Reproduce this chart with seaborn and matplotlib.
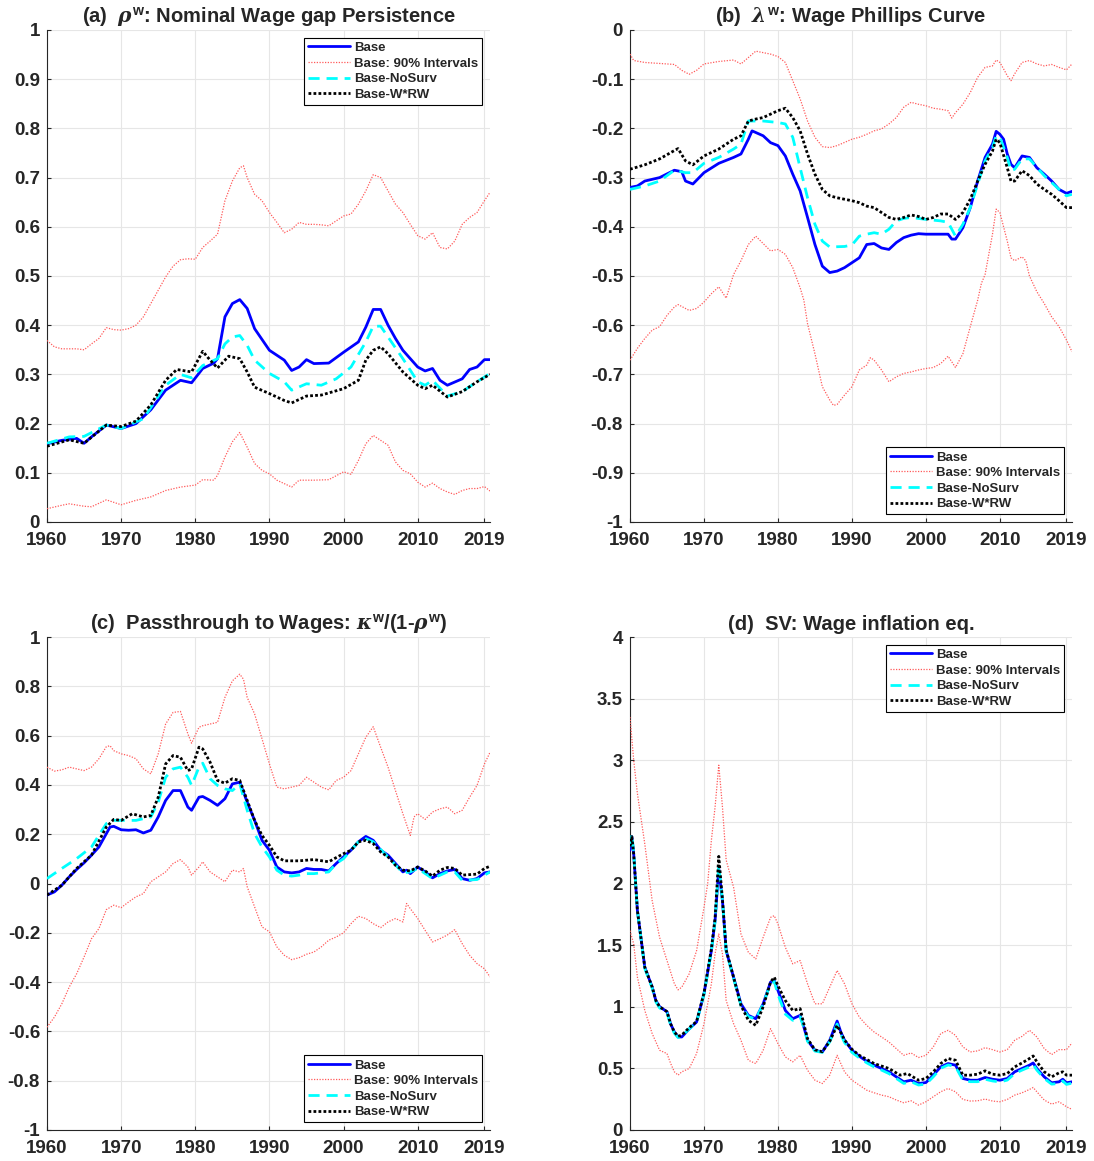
import numpy as np
import pandas as pd
import matplotlib
matplotlib.use("Agg")
import matplotlib.pyplot as plt
import seaborn as sns

# ---------------- Panel (a): rho^w ----------------
a_base_x = [1960,1962,1964,1965,1966,1968,1970,1972,1974,1976,1978,1979.5,1981,1982.5,1983,1984,1985,1986,1987,1988,1990,1992,1993,1994,1995,1996,1998,2000,2002,2003,2004,2005,2006,2007,2008,2010,2011,2012,2013,2014,2016,2017,2018,2019,2019.75]
a_base_y = [0.159,0.166,0.170,0.160,0.173,0.197,0.190,0.200,0.228,0.268,0.288,0.283,0.312,0.323,0.332,0.417,0.444,0.452,0.434,0.393,0.349,0.329,0.308,0.315,0.330,0.322,0.323,0.345,0.366,0.396,0.432,0.432,0.400,0.373,0.349,0.315,0.307,0.312,0.288,0.278,0.291,0.310,0.315,0.330,0.330]
a_nosurv_x = [1960,1963,1965,1968,1970,1973,1976,1978,1979.5,1981,1983,1984,1985,1986,1987,1988,1990,1992,1993,1995,1997,1999,2001,2003,2004,2005,2006,2008,2010,2011,2012,2014,2016,2018,2019.75]
a_nosurv_y = [0.160,0.173,0.174,0.197,0.190,0.210,0.278,0.300,0.293,0.318,0.332,0.362,0.376,0.379,0.359,0.329,0.302,0.285,0.268,0.281,0.278,0.291,0.315,0.366,0.398,0.398,0.376,0.332,0.285,0.278,0.288,0.256,0.265,0.285,0.302]
a_wrw_x = [1960,1963,1965,1968,1970,1972,1974,1976,1977.5,1979.5,1981,1982,1983,1984.5,1986,1987,1988,1990,1992,1993,1995,1997,2000,2002,2003,2004,2005,2006,2008,2010,2011,2012,2014,2016,2018,2019.75]
a_wrw_y = [0.154,0.167,0.160,0.197,0.194,0.205,0.238,0.288,0.310,0.305,0.347,0.329,0.313,0.337,0.332,0.305,0.274,0.261,0.247,0.242,0.256,0.258,0.271,0.288,0.329,0.349,0.356,0.342,0.305,0.278,0.271,0.278,0.254,0.265,0.285,0.300]
a_up_x = [1960,1961,1962,1964,1965,1966,1967,1968,1969,1970,1971,1972,1973,1974,1975,1976,1977,1978,1979,1980,1981,1982,1983,1984,1985,1986,1986.5,1987,1988,1989,1990,1991,1992,1993,1994,1995,1996,1997,1998,1999,2000,2001,2002,2003,2004,2005,2006,2007,2008,2009,2010,2011,2012,2013,2014,2015,2016,2017,2018,2019,2019.75]
a_up_y = [0.369,0.356,0.352,0.352,0.350,0.362,0.373,0.395,0.391,0.390,0.393,0.400,0.417,0.444,0.471,0.498,0.520,0.533,0.535,0.534,0.558,0.571,0.585,0.653,0.693,0.720,0.724,0.700,0.666,0.653,0.629,0.609,0.588,0.595,0.609,0.605,0.605,0.604,0.602,0.612,0.622,0.626,0.646,0.673,0.706,0.700,0.673,0.646,0.629,0.605,0.582,0.575,0.588,0.558,0.555,0.571,0.605,0.619,0.629,0.653,0.670]
a_lo_x = [1960,1962,1963,1965,1966,1968,1970,1972,1974,1976,1978,1980,1981,1982.5,1983,1984,1985,1986,1987,1988,1989,1990,1991,1992,1993,1994,1996,1998,2000,2001,2002,2003,2004,2005,2006,2007,2008,2009,2010,2011,2012,2013,2014,2015,2016,2017,2018,2019,2019.75]
a_lo_y = [0.027,0.034,0.037,0.032,0.031,0.045,0.035,0.044,0.051,0.064,0.071,0.075,0.086,0.085,0.095,0.132,0.163,0.182,0.152,0.119,0.105,0.098,0.085,0.078,0.071,0.085,0.085,0.086,0.102,0.097,0.125,0.159,0.176,0.166,0.156,0.122,0.105,0.098,0.081,0.071,0.079,0.068,0.061,0.056,0.064,0.068,0.068,0.072,0.063]

# ---------------- Panel (b): lambda^w ----------------
b_base_x = [1960,1961,1962,1964,1966,1967,1967.5,1968.5,1970,1972,1974,1975,1976,1976.5,1978,1979,1980,1981,1982,1983,1984,1985,1986,1987,1988,1989,1990,1991,1992,1993,1994,1995,1996,1997,1998,1999,2000,2002,2003,2003.5,2004,2005,2006,2007,2008,2009,2009.5,2010,2010.5,2011,2011.5,2012,2013,2014,2015,2016,2017,2018,2019,2019.75]
b_base_y = [-0.320,-0.317,-0.307,-0.300,-0.285,-0.288,-0.307,-0.313,-0.290,-0.271,-0.259,-0.252,-0.222,-0.205,-0.215,-0.229,-0.235,-0.256,-0.293,-0.327,-0.381,-0.436,-0.480,-0.493,-0.490,-0.483,-0.473,-0.463,-0.436,-0.434,-0.443,-0.446,-0.432,-0.422,-0.417,-0.414,-0.415,-0.415,-0.415,-0.425,-0.425,-0.402,-0.361,-0.307,-0.259,-0.232,-0.206,-0.212,-0.222,-0.252,-0.273,-0.280,-0.256,-0.259,-0.280,-0.293,-0.307,-0.324,-0.332,-0.328]
b_nosurv_x = [1960,1962,1964,1966,1967.5,1968.5,1970,1972,1974,1975,1976,1978,1980,1981,1982,1983,1984,1985,1986,1987,1989,1990,1991,1992,1993,1994,1995,1996,1997,1998,2000,2002,2003,2004,2005,2006,2007,2008,2009,2009.5,2010,2011,2011.5,2012,2013,2014,2016,2018,2019,2019.75]
b_nosurv_y = [-0.324,-0.317,-0.307,-0.285,-0.290,-0.290,-0.271,-0.259,-0.242,-0.232,-0.185,-0.185,-0.188,-0.191,-0.218,-0.280,-0.341,-0.395,-0.429,-0.441,-0.440,-0.437,-0.419,-0.415,-0.412,-0.415,-0.405,-0.388,-0.383,-0.381,-0.385,-0.388,-0.391,-0.419,-0.395,-0.361,-0.313,-0.266,-0.239,-0.215,-0.218,-0.259,-0.286,-0.283,-0.262,-0.262,-0.296,-0.324,-0.337,-0.334]
b_wrw_x = [1960,1962,1964,1966,1966.5,1967.5,1968.5,1970,1972,1974,1975,1976,1977,1978,1980,1981,1982,1983,1984,1985,1986,1987,1988,1990,1991,1992,1993,1994,1995,1996,1997,1998,1999,2000,2001,2002,2003,2004,2005,2006,2007,2008,2009,2009.5,2010,2011,2011.5,2012,2013,2014,2015,2016,2017,2018,2019,2019.75]
b_wrw_y = [-0.283,-0.274,-0.262,-0.245,-0.241,-0.266,-0.274,-0.256,-0.242,-0.222,-0.215,-0.185,-0.181,-0.178,-0.164,-0.159,-0.178,-0.205,-0.252,-0.293,-0.324,-0.337,-0.341,-0.347,-0.351,-0.358,-0.361,-0.371,-0.381,-0.385,-0.381,-0.376,-0.379,-0.385,-0.381,-0.374,-0.374,-0.385,-0.371,-0.344,-0.307,-0.273,-0.246,-0.222,-0.229,-0.280,-0.307,-0.307,-0.286,-0.296,-0.313,-0.324,-0.334,-0.347,-0.361,-0.361]
b_up_x = [1960,1960.5,1962,1964,1966,1967,1968,1969,1970,1972,1974,1975,1976,1977,1979,1980,1981,1982,1983,1984,1985,1986,1987,1988,1990,1991,1992,1993,1994,1995,1996,1997,1998,1999,2000,2001,2002,2003,2003.5,2004,2005,2006,2007,2008,2009,2009.5,2010,2010.5,2011,2011.5,2012,2013,2014,2015,2016,2017,2018,2019,2019.75]
b_up_y = [-0.049,-0.062,-0.066,-0.068,-0.070,-0.082,-0.090,-0.082,-0.069,-0.064,-0.061,-0.069,-0.056,-0.043,-0.049,-0.054,-0.066,-0.103,-0.140,-0.185,-0.218,-0.237,-0.239,-0.235,-0.222,-0.218,-0.212,-0.205,-0.201,-0.191,-0.178,-0.157,-0.147,-0.151,-0.154,-0.159,-0.161,-0.164,-0.179,-0.168,-0.151,-0.127,-0.096,-0.076,-0.073,-0.061,-0.066,-0.079,-0.093,-0.103,-0.089,-0.066,-0.062,-0.069,-0.073,-0.070,-0.076,-0.081,-0.069]
b_lo_x = [1960,1961,1962,1963,1964,1965,1966,1966.5,1968,1969,1970,1971,1972,1973,1974,1975,1976,1977,1978,1979,1980,1981,1982,1983,1983.5,1984,1985,1986,1987,1987.5,1988,1989,1990,1991,1992,1992.5,1993,1994,1995,1996,1997,1998,1999,2000,2001,2002,2003,2004,2005,2006,2007,2007.5,2008,2009,2009.5,2010,2011,2011.5,2012,2013,2013.5,2014,2015,2016,2017,2018,2019,2019.75]
b_lo_y = [-0.671,-0.647,-0.627,-0.610,-0.603,-0.580,-0.563,-0.558,-0.570,-0.566,-0.553,-0.536,-0.522,-0.545,-0.497,-0.469,-0.436,-0.419,-0.434,-0.449,-0.446,-0.456,-0.483,-0.524,-0.549,-0.597,-0.658,-0.725,-0.752,-0.763,-0.761,-0.742,-0.725,-0.691,-0.681,-0.666,-0.671,-0.691,-0.715,-0.705,-0.698,-0.695,-0.691,-0.688,-0.686,-0.678,-0.663,-0.686,-0.658,-0.603,-0.549,-0.515,-0.497,-0.415,-0.364,-0.371,-0.429,-0.463,-0.469,-0.461,-0.469,-0.500,-0.532,-0.556,-0.583,-0.603,-0.630,-0.654]

# ---------------- Panel (c): kappa^w/(1-rho^w) ----------------
c_base_x = [1960,1961,1962,1963,1964,1965,1966,1967,1968,1968.5,1969,1970,1971,1972,1973,1974,1975,1976,1977,1978,1979,1979.5,1980.5,1981,1982,1983,1984,1985,1986,1987,1988,1989,1990,1991,1992,1993,1994,1995,1996,1997,1998,1999,2000,2001,2002,2003,2004,2005,2006,2007,2008,2008.5,2009,2010,2011,2012,2013,2014,2015,2016,2017,2018,2019,2019.75]
c_base_y = [-0.047,-0.034,-0.007,0.027,0.057,0.084,0.115,0.148,0.202,0.229,0.232,0.218,0.216,0.218,0.205,0.216,0.270,0.337,0.377,0.377,0.310,0.297,0.350,0.353,0.337,0.317,0.344,0.404,0.411,0.330,0.256,0.175,0.135,0.067,0.047,0.043,0.047,0.061,0.057,0.057,0.051,0.081,0.108,0.135,0.169,0.191,0.175,0.135,0.115,0.081,0.047,0.054,0.040,0.067,0.047,0.023,0.040,0.051,0.057,0.020,0.013,0.020,0.043,0.047]
c_nosurv_x = [1960,1962,1964,1966,1968,1969,1970,1972,1974,1975,1976,1977,1978,1979,1979.5,1980.5,1981,1982,1983,1984,1985,1986,1987,1988,1989,1990,1991,1992,1993,1994,1995,1996,1998,1999,2000,2002,2003,2004,2006,2008,2009,2010,2012,2014,2015,2016,2018,2019.75]
c_nosurv_y = [0.020,0.061,0.101,0.148,0.243,0.256,0.256,0.256,0.270,0.330,0.431,0.465,0.472,0.431,0.398,0.472,0.488,0.425,0.398,0.384,0.377,0.404,0.297,0.202,0.148,0.108,0.054,0.034,0.030,0.034,0.040,0.040,0.047,0.081,0.101,0.169,0.182,0.169,0.108,0.043,0.047,0.061,0.020,0.047,0.047,0.013,0.016,0.047]
c_wrw_x = [1960,1962,1964,1966,1968,1969,1970,1971.5,1973,1974,1975,1976,1977,1978,1979,1979.5,1980.5,1981,1982,1983,1984,1985,1986,1987,1988,1989,1990,1991,1992,1994,1996,1998,1999,2000,2001,2002,2003,2004,2005,2006,2007,2008,2009,2010,2011,2012,2013,2014,2015,2016,2018,2019,2019.75]
c_wrw_y = [-0.047,-0.007,0.061,0.115,0.229,0.260,0.256,0.283,0.270,0.276,0.350,0.485,0.519,0.512,0.458,0.465,0.553,0.546,0.492,0.418,0.407,0.425,0.418,0.337,0.256,0.195,0.155,0.108,0.092,0.092,0.097,0.088,0.105,0.121,0.135,0.169,0.175,0.162,0.128,0.108,0.074,0.054,0.051,0.067,0.051,0.030,0.054,0.065,0.061,0.034,0.038,0.061,0.070]
c_up_x = [1960,1961,1962,1963,1964,1965,1966,1967,1968,1968.5,1969,1970,1971,1972,1973,1974,1975,1976,1977,1978,1979,1979.5,1980.5,1981,1982,1983,1984,1985,1986,1986.5,1987,1988,1989,1990,1991,1992,1993,1994,1995,1996,1997,1998,1999,2000,2001,2002,2003,2004,2005,2006,2007,2008,2009,2009.5,2010,2011,2012,2013,2014,2015,2016,2017,2018,2019,2019.75]
c_up_y = [0.472,0.456,0.461,0.472,0.465,0.458,0.472,0.506,0.555,0.559,0.539,0.526,0.519,0.506,0.465,0.445,0.526,0.647,0.694,0.698,0.607,0.569,0.634,0.640,0.647,0.654,0.755,0.822,0.849,0.829,0.755,0.688,0.587,0.485,0.391,0.384,0.391,0.398,0.431,0.411,0.391,0.380,0.418,0.431,0.458,0.526,0.593,0.636,0.553,0.472,0.377,0.283,0.195,0.270,0.283,0.260,0.290,0.303,0.310,0.283,0.297,0.350,0.398,0.485,0.532]
c_lo_x = [1960,1961,1962,1963,1964,1965,1966,1967,1968,1969,1970,1971,1972,1973,1974,1976,1977,1978,1979,1979.5,1980.5,1981,1982,1983,1984,1985,1986,1986.5,1987,1988,1989,1990,1991,1992,1993,1994,1995,1996,1997,1998,1999,2000,2001,2002,2003,2004,2005,2006,2007,2008,2008.5,2009,2010,2011,2012,2013,2014,2015,2016,2017,2018,2019,2019.75]
c_lo_y = [-0.583,-0.542,-0.488,-0.420,-0.366,-0.298,-0.224,-0.183,-0.106,-0.088,-0.098,-0.075,-0.054,-0.041,0.007,0.047,0.081,0.097,0.067,0.034,0.067,0.088,0.047,0.027,0.007,0.054,0.047,0.061,-0.013,-0.095,-0.176,-0.196,-0.257,-0.291,-0.309,-0.301,-0.287,-0.278,-0.257,-0.230,-0.217,-0.200,-0.163,-0.133,-0.142,-0.163,-0.179,-0.156,-0.142,-0.156,-0.081,-0.102,-0.142,-0.190,-0.237,-0.224,-0.209,-0.187,-0.244,-0.291,-0.325,-0.346,-0.379]

# ---------------- Panel (d): SV wage inflation eq. ----------------
d_base_x = [1960,1960.25,1960.5,1961,1962,1963,1963.5,1964,1965,1965.5,1966,1966.5,1967,1968,1969,1970,1971,1971.5,1972,1972.5,1973,1974,1975,1976,1977,1978,1979,1979.5,1980,1981,1982,1983,1983.5,1984,1985,1986,1987,1988,1988.5,1989,1990,1991,1992,1993,1994,1995,1996,1997,1998,1999,2000,2001,2002,2003,2004,2005,2006,2007,2008,2009,2010,2011,2012,2013,2014,2014.5,2015,2016,2017,2018,2018.5,2019,2019.75]
d_base_y = [2.27,2.38,2.24,1.78,1.32,1.16,1.05,1.00,0.96,0.86,0.795,0.755,0.755,0.82,0.876,1.105,1.455,1.70,2.12,1.86,1.455,1.24,1.024,0.93,0.903,1.024,1.20,1.213,1.132,0.97,0.903,0.93,0.836,0.728,0.647,0.633,0.728,0.884,0.795,0.728,0.647,0.598,0.558,0.526,0.499,0.472,0.431,0.391,0.404,0.377,0.385,0.445,0.512,0.539,0.526,0.418,0.404,0.404,0.426,0.412,0.404,0.418,0.472,0.499,0.526,0.544,0.499,0.431,0.383,0.391,0.412,0.383,0.391]
d_nosurv_x = [1960,1960.25,1960.5,1961,1962,1963,1963.5,1964,1965,1965.5,1966,1966.5,1967,1968,1969,1970,1971,1971.5,1972,1972.5,1973,1974,1975,1976,1977,1978,1979,1979.5,1980,1981,1982,1983,1983.5,1984,1985,1986,1987,1988,1988.5,1989,1990,1991,1992,1993,1994,1995,1996,1997,1998,1999,2000,2001,2002,2003,2004,2005,2006,2007,2008,2009,2010,2011,2012,2013,2014,2014.5,2015,2016,2017,2018,2018.5,2019,2019.75]
d_nosurv_y = [2.30,2.40,2.25,1.78,1.31,1.15,1.04,0.99,0.95,0.85,0.785,0.750,0.760,0.82,0.876,1.10,1.45,1.69,2.15,1.86,1.45,1.23,1.01,0.92,0.90,1.02,1.19,1.205,1.10,0.94,0.89,0.92,0.83,0.72,0.64,0.630,0.715,0.860,0.775,0.710,0.630,0.585,0.545,0.512,0.486,0.458,0.418,0.378,0.392,0.365,0.372,0.432,0.500,0.528,0.515,0.405,0.392,0.392,0.412,0.398,0.390,0.405,0.458,0.486,0.512,0.532,0.486,0.418,0.372,0.378,0.398,0.370,0.380]
d_wrw_x = [1960,1960.25,1960.5,1961,1962,1963,1963.5,1964,1965,1965.5,1966,1966.5,1967,1968,1969,1970,1971,1971.5,1972,1972.5,1973,1974,1975,1976,1977,1978,1979,1979.5,1980,1981,1982,1983,1983.5,1984,1985,1986,1987,1988,1988.5,1989,1990,1991,1993,1995,1996.5,1997.5,1999,2000,2001,2002,2003,2004,2005,2006,2007,2008,2009,2010,2011,2012,2013,2014,2014.5,2015,2016,2017,2018,2018.5,2019,2019.75]
d_wrw_y = [2.30,2.38,2.24,1.78,1.32,1.16,1.05,1.00,0.96,0.86,0.795,0.760,0.770,0.83,0.880,1.11,1.47,1.72,2.22,1.87,1.46,1.24,1.01,0.89,0.849,1.00,1.20,1.24,1.17,1.05,0.97,0.985,0.86,0.74,0.650,0.635,0.720,0.849,0.790,0.730,0.655,0.606,0.539,0.499,0.445,0.458,0.404,0.418,0.472,0.539,0.580,0.566,0.445,0.445,0.453,0.480,0.453,0.445,0.458,0.512,0.544,0.580,0.601,0.553,0.472,0.431,0.464,0.472,0.445,0.445]
d_up_x = [1960,1960.5,1961,1962,1963,1964,1965,1966,1966.5,1967,1968,1969,1970,1970.5,1971,1971.5,1972,1972.5,1973,1974,1975,1976,1977,1978,1979,1979.5,1980,1981,1982,1983,1984,1985,1986,1987,1988,1989,1990,1991,1992,1993,1994,1995,1996,1997,1998,1999,2000,2001,2002,2003,2004,2005,2006,2007,2008,2009,2010,2011,2012,2013,2014,2015,2016,2017,2018,2019,2019.75]
d_up_y = [3.35,3.00,2.73,2.32,1.86,1.563,1.375,1.186,1.137,1.159,1.267,1.455,1.806,2.00,2.35,2.62,2.96,2.62,2.19,1.97,1.59,1.442,1.388,1.563,1.725,1.739,1.671,1.482,1.348,1.375,1.186,1.024,1.024,1.159,1.294,1.186,1.024,0.916,0.849,0.795,0.755,0.714,0.660,0.606,0.625,0.588,0.606,0.674,0.782,0.809,0.768,0.674,0.633,0.642,0.668,0.652,0.633,0.652,0.728,0.760,0.809,0.755,0.660,0.612,0.652,0.652,0.706]
d_lo_x = [1960,1960.5,1961,1962,1963,1964,1965,1965.5,1966,1966.5,1967,1968,1969,1970,1971,1971.5,1972,1972.5,1973,1974,1975,1976,1977,1978,1979,1980,1981,1982,1983,1984,1985,1986,1987,1988,1989,1990,1991,1992,1993,1994,1995,1996,1997,1998,1999,2000,2001,2002,2003,2004,2005,2006,2007,2008,2009,2010,2011,2012,2013,2014,2014.5,2015,2016,2017,2018,2019,2019.75]
d_lo_y = [1.617,1.51,1.24,0.97,0.782,0.647,0.620,0.539,0.472,0.445,0.472,0.499,0.620,0.863,1.186,1.429,1.59,1.429,1.051,0.863,0.728,0.566,0.539,0.647,0.822,0.701,0.593,0.553,0.606,0.485,0.404,0.377,0.445,0.606,0.472,0.404,0.364,0.323,0.302,0.283,0.270,0.243,0.221,0.237,0.202,0.229,0.270,0.310,0.337,0.310,0.248,0.235,0.237,0.251,0.235,0.229,0.248,0.283,0.302,0.329,0.345,0.310,0.243,0.210,0.229,0.189,0.167]

titles = [r"(a)  $\rho^{\mathbf{w}}$: Nominal Wage gap Persistence",
          r"(b)  $\lambda^{\mathbf{w}}$: Wage Phillips Curve",
          r"(c)  Passthrough to Wages: $\kappa^{\mathbf{w}}$/(1-$\rho^{\mathbf{w}}$)",
          "(d)  SV: Wage inflation eq."]
legend_labels = ["Base", "Base: 90% Intervals", "Base-NoSurv", "Base-W*RW"]
xtick_vals = [1960, 1970, 1980, 1990, 2000, 2010, 2019]

sns.set_style("ticks")
plt.rcParams['font.family'] = ['Liberation Sans', 'DejaVu Sans']
plt.rcParams['font.weight'] = 'bold'
plt.rcParams['mathtext.fontset'] = 'custom'
plt.rcParams['mathtext.rm'] = 'Liberation Sans:bold'
plt.rcParams['mathtext.bf'] = 'Liberation Sans:bold'
plt.rcParams['mathtext.it'] = 'DejaVu Serif:italic'

fig = plt.figure(figsize=(10.94, 11.61), dpi=100)
W, H = 1094, 1161
boxes = [(47, 30, 490, 522), (630, 30, 1072, 522), (47, 637, 490, 1130), (630, 637, 1072, 1130)]
axes = [fig.add_axes([l / W, 1 - b / H, (r - l) / W, (b - t) / H]) for (l, t, r, b) in boxes]

panels = [
    (a_base_x, a_base_y, a_up_x, a_up_y, a_lo_x, a_lo_y, a_nosurv_x, a_nosurv_y, a_wrw_x, a_wrw_y),
    (b_base_x, b_base_y, b_up_x, b_up_y, b_lo_x, b_lo_y, b_nosurv_x, b_nosurv_y, b_wrw_x, b_wrw_y),
    (c_base_x, c_base_y, c_up_x, c_up_y, c_lo_x, c_lo_y, c_nosurv_x, c_nosurv_y, c_wrw_x, c_wrw_y),
    (d_base_x, d_base_y, d_up_x, d_up_y, d_lo_x, d_lo_y, d_nosurv_x, d_nosurv_y, d_wrw_x, d_wrw_y),
]
ylims = [(0, 1), (-1, 0), (-1, 1), (0, 4)]
yticks = [np.round(np.arange(0, 1.01, 0.1), 1), np.round(np.arange(-1, 0.01, 0.1), 1),
          np.round(np.arange(-1, 1.01, 0.2), 1), np.arange(0, 4.01, 0.5)]
leg_locs = ["upper right", "lower right", "lower right", "upper right"]

def fmt(v):
    s = f"{v:.1f}"
    if s.endswith(".0"):
        s = s[:-2]
    if s == "-0":
        s = "0"
    return s

red = "#ff5a5a"
for ax, p, title, yl, yt, loc in zip(axes, panels, titles, ylims, yticks, leg_locs):
    bx, by, ux, uy, lx, ly, nx, ny, wx, wy = p
    sns.lineplot(x=bx, y=by, ax=ax, color="#0000ff", lw=2.0, label=legend_labels[0], zorder=5)
    sns.lineplot(x=ux, y=uy, ax=ax, color=red, lw=0.9, linestyle=(0, (1, 1.2)), label=legend_labels[1], zorder=3)
    sns.lineplot(x=lx, y=ly, ax=ax, color=red, lw=0.9, linestyle=(0, (1, 1.2)), label="_nolegend_", zorder=3)
    sns.lineplot(x=nx, y=ny, ax=ax, color="#00ffff", lw=2.0, linestyle=(0, (4, 2.5)), label=legend_labels[2], zorder=6)
    sns.lineplot(x=wx, y=wy, ax=ax, color="black", lw=2.0, linestyle=(0, (1, 0.8)), label=legend_labels[3], zorder=7)

    ax.set_xlim(1960, 2019.75)
    ax.set_ylim(*yl)
    ax.set_xticks(xtick_vals)
    ax.set_xticklabels([str(v) for v in xtick_vals], fontsize=13.5, fontweight="bold", color="#262626")
    ax.set_yticks(yt)
    ax.set_yticklabels([fmt(v) for v in yt], fontsize=13.5, fontweight="bold", color="#262626")
    ax.set_xlabel("")
    ax.set_ylabel("")
    ax.grid(True, color="#e6e6e6", lw=0.8)
    ax.set_axisbelow(True)
    ax.tick_params(direction="in", length=3, width=0.8, color="#262626")
    ax.tick_params(axis="x", pad=7)
    ax.tick_params(axis="y", pad=5)
    for s in ["top", "right"]:
        ax.spines[s].set_visible(False)
    for s in ["left", "bottom"]:
        ax.spines[s].set_color("#262626")
        ax.spines[s].set_linewidth(0.8)
    ax.set_title(title, fontsize=14.5, fontweight="bold", pad=5)
    leg = ax.legend(loc=loc, prop={"weight": "bold", "size": 9.5}, frameon=True, fancybox=False,
                    edgecolor="black", framealpha=1, borderpad=0.3, labelspacing=0.25,
                    handlelength=3.2, handletextpad=0.3, borderaxespad=0.6)
    leg.get_frame().set_linewidth(0.8)

fig.savefig("out.png", dpi=100, facecolor="white")
